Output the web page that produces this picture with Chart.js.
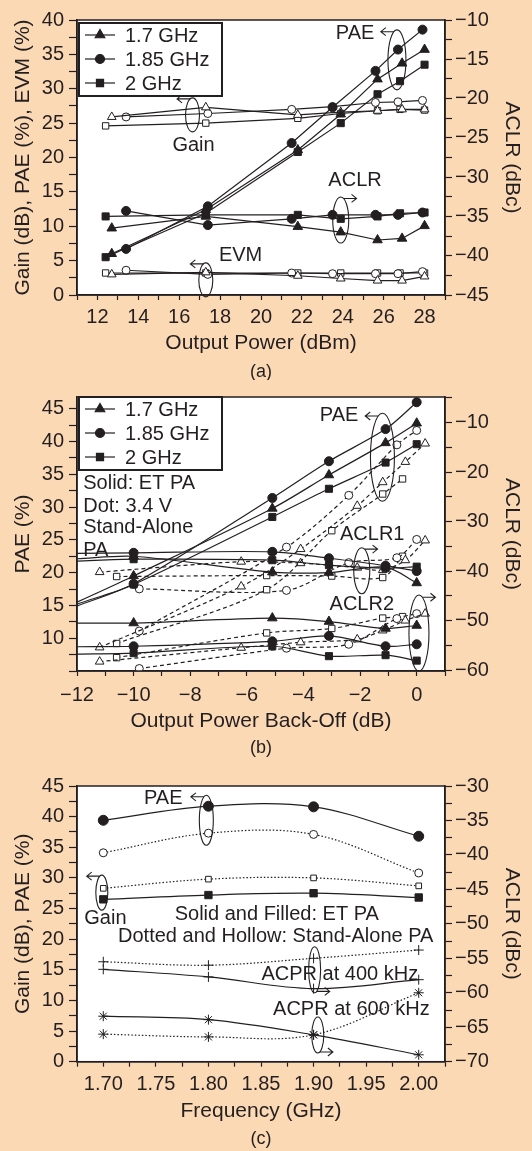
<!DOCTYPE html>
<html>
<head>
<meta charset="utf-8">
<script src="https://cdn.jsdelivr.net/npm/chart.js@4.4.0/dist/chart.umd.min.js"></script>
<style>
  body { margin: 0; background: #FCD9B5; width: 532px; height: 1151px; overflow: hidden; }
  canvas { display: block; }
</style>
</head>
<body>
<canvas id="chartA" width="532" height="380"></canvas>
<canvas id="chartB" width="532" height="385"></canvas>
<canvas id="chartC" width="532" height="386"></canvas>
<script>
const ink = '#231F20';
const FONT = "'Liberation Sans', Arial, Helvetica, sans-serif";

const freqLabels = ['1.7 GHz', '1.85 GHz', '2 GHz'];

// ---- (a) output power sweep ----
const aX17 = [12.7, 17.3, 21.8, 23.9, 25.7, 26.9, 28.0];
const aX185 = [13.4, 17.4, 21.5, 23.5, 25.6, 26.7, 27.9];
const aX2 = [12.4, 17.3, 21.8, 23.9, 25.7, 26.8, 28.0];
const aGain17 = [25.9, 27.3, 26.2, 26.6, 26.8, 27.0, 27.0];
const aGain185 = [25.9, 26.4, 27.0, 27.4, 28.0, 28.1, 28.3];
const aGain2 = [24.6, 25.0, 25.7, 26.4, 26.8, 27.0, 26.9];
const aPae17 = [6.0, 12.4, 21.1, 26.3, 31.4, 33.7, 35.7];
const aPae185 = [6.7, 12.9, 22.1, 27.3, 32.6, 35.7, 38.6];
const aPae2 = [5.5, 11.9, 20.8, 25.0, 29.2, 31.1, 33.5];
const aAclr17 = [-36.5, -35.0, -36.3, -37.0, -38.0, -37.8, -36.2];
const aAclr185 = [-34.3, -36.1, -35.3, -34.8, -34.8, -34.8, -34.5];
const aAclr2 = [-35.0, -34.8, -34.8, -35.3, -35.0, -34.6, -34.5];
const aEvm17 = [3.0, 3.3, 2.8, 2.4, 2.1, 2.1, 2.7];
const aEvm185 = [3.6, 3.0, 3.2, 3.1, 3.1, 3.1, 3.4];
const aEvm2 = [3.2, 3.2, 3.2, 3.2, 3.2, 3.2, 3.2];

// ---- (b) back-off sweep, ET PA (solid) ----
const bXet = [-12, -10, -5.1, -3.1, -1.1, 0];
const bPaeEt17 = [15.5, 19.5, 29.8, 34.9, 39.8, 42.8];
const bPaeEt185 = [14.9, 18.3, 31.4, 37.0, 41.9, 46.0];
const bPaeEt2 = [15.2, 18.2, 28.5, 32.8, 36.8, 39.6];
const bAclr1Et17 = [-37.5, -37.0, -40.2, -40.3, -39.2, -42.4];
const bAclr1Et185 = [-36.4, -36.3, -36.1, -37.4, -38.9, -40.0];
const bAclr1Et2 = [-38.0, -37.6, -37.8, -38.8, -39.4, -39.1];
const bAclr2Et17 = [-50.5, -50.5, -49.5, -50.2, -51.6, -51.0];
const bAclr2Et185 = [-55.3, -55.2, -54.2, -53.1, -55.2, -54.8];
const bAclr2Et2 = [-56.8, -56.6, -55.2, -57.2, -57.0, -58.1];

// ---- (b) stand-alone PA at 3.4 V (dashed) ----
const bXsa17 = [-11.2, -6.2, -4.1, -2.1, -1.2, -0.4, 0.3];
const bXsa185 = [-9.8, -4.6, -2.4, -0.7, 0];
const bXsa2 = [-10.6, -5.3, -3.0, -1.2, -0.5];
const bPaeSa17 = [8.6, 17.9, 23.6, 30.2, 33.8, 36.9, 39.7];
const bPaeSa185 = [11.1, 23.9, 31.8, 39.5, 41.7];
const bPaeSa2 = [9.2, 17.4, 26.4, 32.0, 34.3];
const bAclr1Sa17 = [-40.2, -38.1, -38.4, -39.3, -39.8, -37.8, -33.8];
const bAclr1Sa185 = [-43.6, -43.9, -38.3, -37.3, -33.6];
const bAclr1Sa2 = [-41.1, -40.9, -41.0, -41.3, -37.0];
const bAclr2Sa17 = [-58.3, -55.5, -54.4, -53.8, -52.0, -50.0, -48.6];
const bAclr2Sa185 = [-59.7, -55.6, -54.8, -49.6, -48.6];
const bAclr2Sa2 = [-57.5, -52.5, -51.6, -49.5, -49.2];

// ---- (c) frequency sweep ----
const cX = [1.70, 1.80, 1.90, 2.00];
const cPaeEt = [39.4, 41.7, 41.6, 36.8];
const cPaeSa = [34.1, 37.3, 37.1, 30.8];
const cGainEt = [26.5, 27.2, 27.5, 26.8];
const cGainSa = [28.3, 29.8, 30.0, 28.7];
const cAcpr400Et = [-56.6, -57.7, -59.4, -58.1];
const cAcpr400Sa = [-55.5, -56.0, -55.0, -53.8];
const cAcpr600Et = [-63.4, -63.9, -66.1, -69.0];
const cAcpr600Sa = [-66.0, -66.4, -66.1, -60.0];

// marker look per frequency
const shapes = ['triangle', 'circle', 'rect'];
const solidR = {triangle: 5.5, circle: 4.5, rect: 5};
const hollowR = {triangle: 5, circle: 4, rect: 4.5};
const DASH = [4, 3];
const DOT = [1.5, 2];

function fmt(v) {
  return v < 0 ? '\u2212' + Math.abs(v) : String(v);
}
function labelEvery(step, lo, hi) {
  return function (v) {
    const k = v / step;
    if (Math.abs(k - Math.round(k)) > 1e-6) return '';
    if (v < lo - 1e-9 || v > hi + 1e-9) return '';
    return fmt(Math.round(v * 1000) / 1000);
  };
}

function ds(xs, ys, axis, shape, filled, r, dash, tension) {
  return {
    data: xs.map((x, i) => ({x: x, y: ys[i]})),
    yAxisID: axis,
    borderColor: ink,
    borderWidth: 1.2,
    borderDash: dash,
    pointStyle: shape,
    pointRadius: xs.map(x => x <= -12 ? 0 : r),
    pointBackgroundColor: filled ? ink : '#fff',
    pointBorderColor: ink,
    pointBorderWidth: 1,
    tension: tension,
    fill: false
  };
}

function axis(opts) {
  const a = {
    type: 'linear',
    position: opts.position,
    min: opts.min,
    max: opts.max,
    grid: {drawOnChartArea: false, drawTicks: true, tickLength: opts.tickLength, tickColor: ink, tickWidth: 1.2},
    border: {display: true, color: ink, width: 1.5},
    ticks: {
      color: ink, font: {family: FONT, size: 20}, padding: opts.pad,
      stepSize: opts.step, autoSkip: false, maxRotation: 0, minRotation: 0,
      includeBounds: false, callback: opts.callback
    },
    title: {display: true, text: opts.title, color: ink, font: {family: FONT, size: 21}, padding: opts.titlePad},
    afterFit: function (scale) {
      if (opts.width) scale.width = opts.width;
      if (opts.height) scale.height = opts.height;
    }
  };
  return a;
}

function drawArrowLoop(ctx, cx, cy, l) {
  ctx.beginPath();
  ctx.ellipse(cx, cy, l.rx, l.ry, 0, 0, Math.PI * 2);
  ctx.stroke();
  const sy = l.at === 'top' ? cy - l.ry * 0.94 : cy + l.ry * 0.94;
  const sx = cx + l.dir * l.rx * 0.35;
  const ex = sx + l.dir * 13;
  ctx.beginPath();
  ctx.moveTo(sx, sy);
  ctx.lineTo(ex, sy);
  ctx.moveTo(ex - l.dir * 5, sy - 4);
  ctx.lineTo(ex, sy);
  ctx.lineTo(ex - l.dir * 5, sy + 4);
  ctx.stroke();
}

const decor = {
  id: 'decor',
  beforeDraw(chart) {
    const {ctx, chartArea: a} = chart;
    ctx.save();
    ctx.fillStyle = '#fff';
    ctx.fillRect(a.left, a.top, a.width, a.height);
    ctx.restore();
  },
  afterDraw(chart, args, o) {
    const {ctx, chartArea: a, scales} = chart;
    const sx = scales.x, sy = scales.y;
    ctx.save();
    ctx.strokeStyle = ink;
    ctx.lineWidth = 1.5;
    ctx.strokeRect(a.left, a.top, a.width, a.height);

    ctx.fillStyle = ink;
    ctx.font = '20px ' + FONT;
    ctx.textBaseline = 'middle';
    (o.texts || []).forEach(t => {
      ctx.textAlign = t.align || 'center';
      ctx.fillText(t.t, sx.getPixelForValue(t.x), sy.getPixelForValue(t.y));
    });

    ctx.lineWidth = 1.1;
    (o.loops || []).forEach(l => {
      drawArrowLoop(ctx, sx.getPixelForValue(l.x), sy.getPixelForValue(l.y), l);
    });

    if (o.legend) {
      const lx = a.left + 2, ly = a.top + o.legend.dy;
      ctx.fillStyle = '#fff';
      ctx.fillRect(lx, ly, 143, 73);
      ctx.lineWidth = 2;
      ctx.strokeRect(lx, ly, 143, 73);
      freqLabels.forEach((lab, i) => {
        const y = ly + 12 + 24 * i;
        ctx.lineWidth = 1.2;
        ctx.beginPath();
        ctx.moveTo(lx + 6, y);
        ctx.lineTo(lx + 36, y);
        ctx.stroke();
        ctx.fillStyle = ink;
        Chart.helpers.drawPoint(ctx, {pointStyle: shapes[i], radius: solidR[shapes[i]], rotation: 0, borderWidth: 1}, lx + 21, y);
        ctx.fillStyle = ink;
        ctx.textAlign = 'left';
        ctx.font = '20px ' + FONT;
        ctx.fillText(lab, lx + 46, y + 1);
      });
    }

    ctx.fillStyle = ink;
    ctx.font = '18px ' + FONT;
    ctx.textAlign = 'center';
    ctx.fillText(o.tag, (a.left + a.right) / 2, a.bottom + 77);
    ctx.restore();
  }
};

function makeChart(id, datasets, scales, pad, decorOpts) {
  return new Chart(document.getElementById(id), {
    type: 'line',
    data: {datasets: datasets},
    options: {
      responsive: false,
      animation: false,
      devicePixelRatio: 1,
      layout: {padding: {top: pad.top, bottom: pad.bottom, left: 0, right: 0}},
      plugins: {legend: {display: false}, tooltip: {enabled: false}, decor: decorOpts},
      scales: scales
    },
    plugins: [decor]
  });
}

// ---------- chart (a) ----------
const aXs = [aX17, aX185, aX2];
const aSets = [];
[aPae17, aPae185, aPae2].forEach((ys, i) => aSets.push(ds(aXs[i], ys, 'y', shapes[i], true, solidR[shapes[i]], [], 0)));
[aAclr17, aAclr185, aAclr2].forEach((ys, i) => aSets.push(ds(aXs[i], ys, 'y2', shapes[i], true, solidR[shapes[i]], [], 0)));
[aGain17, aGain185, aGain2].forEach((ys, i) => aSets.push(ds(aXs[i], ys, 'y', shapes[i], false, hollowR[shapes[i]], [], 0)));
[aEvm17, aEvm185, aEvm2].forEach((ys, i) => aSets.push(ds(aXs[i], ys, 'y', shapes[i], false, hollowR[shapes[i]], [], 0)));

makeChart('chartA', aSets, {
  x: axis({position: 'bottom', min: 11, max: 29, step: 1, tickLength: 5, pad: 5, height: 66,
    callback: labelEvery(2, 12, 28), title: 'Output Power (dBm)', titlePad: {top: 0, bottom: 5.4}}),
  y: axis({position: 'left', min: 0, max: 40, step: 2.5, tickLength: 8, pad: 5, width: 77,
    callback: labelEvery(5, 0, 40), title: 'Gain (dB), PAE (%), EVM (%)', titlePad: {top: 10.4, bottom: 0}}),
  y2: axis({position: 'right', min: -45, max: -10, step: 2.5, tickLength: 7, pad: 3, width: 87,
    callback: labelEvery(5, -45, -10), title: 'ACLR (dBc)', titlePad: {top: 7.4, bottom: 0}})
}, {top: 20, bottom: 19}, {
  tag: '(a)',
  legend: {dy: 3},
  texts: [
    {t: 'PAE', x: 24.6, y: 38.1},
    {t: 'Gain', x: 16.7, y: 21.7},
    {t: 'ACLR', x: 24.6, y: 16.6},
    {t: 'EVM', x: 19.0, y: 5.7}
  ],
  loops: [
    {x: 26.65, y: 34.2, rx: 9, ry: 30, dir: -1, at: 'top'},
    {x: 16.65, y: 26.2, rx: 7, ry: 17, dir: -1, at: 'top'},
    {x: 23.9, y: 10.9, rx: 8, ry: 23, dir: 1, at: 'top'},
    {x: 17.3, y: 2.2, rx: 7, ry: 17, dir: -1, at: 'top'}
  ]
});

// ---------- chart (b) ----------
const bXsa = [bXsa17, bXsa185, bXsa2];
const bSets = [];
[bPaeEt17, bPaeEt185, bPaeEt2].forEach((ys, i) => bSets.push(ds(bXet, ys, 'y', shapes[i], true, solidR[shapes[i]], [], 0.3)));
[bAclr1Et17, bAclr1Et185, bAclr1Et2].forEach((ys, i) => bSets.push(ds(bXet, ys, 'y2', shapes[i], true, solidR[shapes[i]], [], 0.3)));
[bAclr2Et17, bAclr2Et185, bAclr2Et2].forEach((ys, i) => bSets.push(ds(bXet, ys, 'y2', shapes[i], true, solidR[shapes[i]], [], 0.3)));
[bPaeSa17, bPaeSa185, bPaeSa2].forEach((ys, i) => bSets.push(ds(bXsa[i], ys, 'y', shapes[i], false, hollowR[shapes[i]], DASH, 0.3)));
[bAclr1Sa17, bAclr1Sa185, bAclr1Sa2].forEach((ys, i) => bSets.push(ds(bXsa[i], ys, 'y2', shapes[i], false, hollowR[shapes[i]], DASH, 0.3)));
[bAclr2Sa17, bAclr2Sa185, bAclr2Sa2].forEach((ys, i) => bSets.push(ds(bXsa[i], ys, 'y2', shapes[i], false, hollowR[shapes[i]], DASH, 0.3)));

makeChart('chartB', bSets, {
  x: axis({position: 'bottom', min: -12, max: 1, step: 1, tickLength: 5, pad: 7, height: 66,
    callback: labelEvery(2, -12, 0), title: 'Output Power Back-Off (dB)', titlePad: {top: 0, bottom: 2.7}}),
  y: axis({position: 'left', min: 5, max: 46.8, step: 2.5, tickLength: 8, pad: 5, width: 77,
    callback: labelEvery(5, 10, 45), title: 'PAE (%)', titlePad: {top: 10.4, bottom: 0}}),
  y2: axis({position: 'right', min: -60.2, max: -4.8, step: 5, tickLength: 7, pad: 3, width: 87,
    callback: labelEvery(10, -60, -10), title: 'ACLR (dBc)', titlePad: {top: 7.4, bottom: 0}})
}, {top: 15, bottom: 28}, {
  tag: '(b)',
  legend: {dy: 0},
  texts: [
    {t: 'PAE', x: -2.74, y: 44.0},
    {t: 'ACLR1', x: -1.57, y: 25.8},
    {t: 'ACLR2', x: -1.94, y: 15.2},
    {t: 'Solid: ET PA', x: -11.78, y: 33.64, align: 'left'},
    {t: 'Dot: 3.4 V', x: -11.78, y: 30.11, align: 'left'},
    {t: 'Stand-Alone', x: -11.78, y: 26.82, align: 'left'},
    {t: 'PA', x: -11.78, y: 23.39, align: 'left'}
  ],
  loops: [
    {x: -1.21, y: 37.6, rx: 12, ry: 44, dir: -1, at: 'top'},
    {x: -1.94, y: 20.3, rx: 8, ry: 23, dir: 1, at: 'top'},
    {x: 0.08, y: 10.8, rx: 10, ry: 38, dir: 1, at: 'top'}
  ]
});

// ---------- chart (c) ----------
const cSets = [
  ds(cX, cPaeEt, 'y', 'circle', true, 5, [], 0.35),
  ds(cX, cPaeSa, 'y', 'circle', false, 4, DOT, 0.35),
  ds(cX, cGainEt, 'y', 'rect', true, 5.2, [], 0.35),
  ds(cX, cGainSa, 'y', 'rect', false, 4, DOT, 0.35),
  ds(cX, cAcpr400Et, 'y2', 'cross', true, 5, [], 0.35),
  ds(cX, cAcpr400Sa, 'y2', 'cross', false, 5, DOT, 0.35),
  ds(cX, cAcpr600Et, 'y2', 'star', true, 5, [], 0.35),
  ds(cX, cAcpr600Sa, 'y2', 'star', false, 5, DOT, 0.35)
];

makeChart('chartC', cSets, {
  x: axis({position: 'bottom', min: 1.675, max: 2.025, step: 0.025, tickLength: 5, pad: 5.5, height: 64,
    callback: function (v) {
      const k = v * 20;
      if (Math.abs(k - Math.round(k)) > 1e-6 || v < 1.699 || v > 2.001) return '';
      return v.toFixed(2);
    }, title: 'Frequency (GHz)', titlePad: {top: 0, bottom: 1.4}}),
  y: axis({position: 'left', min: 0, max: 45, step: 2.5, tickLength: 8, pad: 5, width: 77,
    callback: labelEvery(5, 0, 45), title: 'Gain (dB), PAE (%)', titlePad: {top: 10.4, bottom: 0}}),
  y2: axis({position: 'right', min: -70, max: -30, step: 2.5, tickLength: 7, pad: 3, width: 87,
    callback: labelEvery(5, -70, -30), title: 'ACLR (dBc)', titlePad: {top: 7.4, bottom: 0}})
}, {top: 21, bottom: 25.3}, {
  tag: '(c)',
  texts: [
    {t: 'PAE', x: 1.757, y: 43.0},
    {t: 'Gain', x: 1.702, y: 23.3},
    {t: 'Solid and Filled: ET PA', x: 1.865, y: 24.1},
    {t: 'Dotted and Hollow: Stand-Alone PA', x: 1.864, y: 20.4},
    {t: 'ACPR at 400 kHz', x: 1.925, y: 14.3},
    {t: 'ACPR at 600 kHz', x: 1.936, y: 8.55}
  ],
  loops: [
    {x: 1.798, y: 39.4, rx: 7, ry: 25, dir: -1, at: 'top'},
    {x: 1.6986, y: 27.6, rx: 6, ry: 17.5, dir: -1, at: 'top'},
    {x: 1.901, y: 15.0, rx: 6, ry: 23, dir: 1, at: 'bottom'},
    {x: 1.904, y: 4.35, rx: 6, ry: 18, dir: 1, at: 'bottom'}
  ]
});
</script>
</body>
</html>
